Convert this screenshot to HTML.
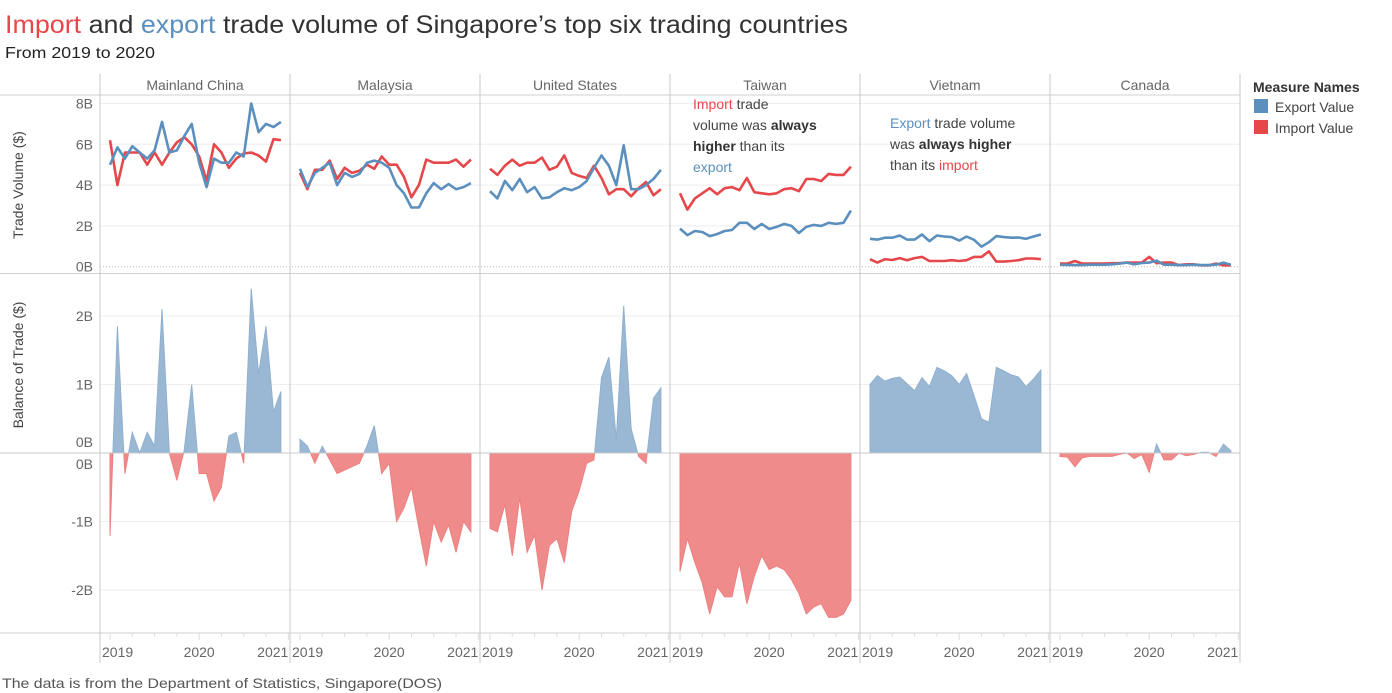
<!DOCTYPE html>
<html><head><meta charset="utf-8"><style>
html,body{margin:0;padding:0;background:#fff;}
svg{display:block;font-family:"Liberation Sans",sans-serif;}
</style></head><body>
<svg id="chart" width="1392" height="693" viewBox="0 0 1392 693">
<text x="5" y="33" font-size="25" textLength="843" lengthAdjust="spacingAndGlyphs" fill="#333"><tspan fill="#e8474a">Import</tspan> and <tspan fill="#5b8fbe">export</tspan> trade volume of Singapore’s top six trading countries</text>
<text x="5" y="58" font-size="16" textLength="150" lengthAdjust="spacingAndGlyphs" fill="#222">From 2019 to 2020</text>
<text x="2" y="688" font-size="14" textLength="440" lengthAdjust="spacingAndGlyphs" fill="#555">The data is from the Department of Statistics, Singapore(DOS)</text>
<g>
<text x="1253" y="92" font-size="14" font-weight="bold" fill="#333">Measure Names</text>
<rect x="1254" y="99" width="14" height="14" fill="#5b8fbe"/>
<text x="1275" y="112" font-size="14" fill="#444">Export Value</text>
<rect x="1254" y="120" width="14" height="14" fill="#e8474a"/>
<text x="1275" y="133" font-size="14" fill="#444">Import Value</text>
</g>
<g id="plot"></g>
<g font-size="14" fill="#444">
<text x="693" y="109"><tspan fill="#e8474a">Import</tspan> trade</text>
<text x="693" y="130">volume was <tspan font-weight="bold" fill="#333">always</tspan></text>
<text x="693" y="151"><tspan font-weight="bold" fill="#333">higher</tspan> than its</text>
<text x="693" y="172" fill="#5b8fbe">export</text>
</g>
<g font-size="14" fill="#444">
<text x="890" y="128"><tspan fill="#5b8fbe">Export</tspan> trade volume</text>
<text x="890" y="149">was <tspan font-weight="bold" fill="#333">always higher</tspan></text>
<text x="890" y="170">than its <tspan fill="#e8474a">import</tspan></text>
</g>
</svg>
<script>
const countries = ["Mainland China","Malaysia","United States","Taiwan","Vietnam","Canada"];
const exportChina = [4.99,5.85,5.3,5.9,5.6,5.3,5.7,7.1,5.6,5.7,6.4,7.0,5.1,3.9,5.3,5.1,5.1,5.6,5.4,8.0,6.6,7.0,6.85,7.1];
const importChina = [6.2,4.0,5.6,5.6,5.6,5.0,5.6,5.0,5.6,6.1,6.35,6.0,5.4,4.2,6.0,5.6,4.85,5.3,5.55,5.6,5.45,5.15,6.25,6.2];
const exportMalaysia = [4.8,3.9,4.6,4.85,5.1,4.0,4.6,4.4,4.55,5.1,5.2,5.1,4.85,4.0,3.6,2.9,2.9,3.6,4.1,3.8,4.05,3.8,3.9,4.1];
const importMalaysia = [4.6,3.8,4.75,4.75,5.2,4.3,4.85,4.6,4.7,5.0,4.8,5.4,5.0,5.0,4.4,3.4,4.0,5.25,5.1,5.1,5.1,5.25,4.9,5.25];
const exportUS = [3.7,3.35,4.2,3.75,4.3,3.65,3.9,3.35,3.4,3.65,3.85,3.75,3.9,4.2,4.85,5.45,4.95,4.0,5.95,3.8,3.8,4.0,4.3,4.75];
const importUS = [4.8,4.5,4.95,5.25,4.95,5.1,5.1,5.35,4.75,4.9,5.45,4.6,4.45,4.35,4.95,4.35,3.55,3.8,3.8,3.45,3.85,4.15,3.5,3.8];
const exportTaiwan = [1.87,1.55,1.75,1.7,1.5,1.6,1.75,1.8,2.15,2.15,1.85,2.1,1.85,1.95,2.1,2.0,1.65,1.95,2.05,2.0,2.15,2.1,2.15,2.75];
const importTaiwan = [3.6,2.8,3.35,3.6,3.85,3.55,3.85,3.9,3.75,4.35,3.65,3.6,3.55,3.6,3.8,3.85,3.7,4.3,4.3,4.2,4.55,4.5,4.5,4.9];
const exportVietnam = [1.37,1.33,1.42,1.42,1.53,1.33,1.33,1.58,1.25,1.53,1.48,1.45,1.28,1.48,1.32,0.98,1.2,1.5,1.45,1.42,1.43,1.37,1.48,1.58];
const importVietnam = [0.37,0.2,0.37,0.33,0.42,0.32,0.42,0.48,0.28,0.28,0.28,0.32,0.28,0.32,0.48,0.48,0.75,0.25,0.25,0.28,0.32,0.4,0.4,0.37];
const exportCanada = [0.1,0.09,0.08,0.08,0.1,0.1,0.1,0.12,0.15,0.2,0.12,0.18,0.2,0.3,0.1,0.1,0.08,0.08,0.1,0.08,0.08,0.1,0.2,0.1];
const importCanada = [0.15,0.15,0.28,0.15,0.15,0.15,0.15,0.17,0.17,0.2,0.2,0.2,0.48,0.17,0.2,0.2,0.08,0.12,0.12,0.07,0.07,0.15,0.07,0.07];
const volumeTicks = [0,2,4,6,8];
const balancePosTicks = [0,1,2];
const balanceNegTicks = [0,-1,-2];
const yearLabels = ["2019","2020","2021"];

const exportsAll=[exportChina,exportMalaysia,exportUS,exportTaiwan,exportVietnam,exportCanada];
const importsAll=[importChina,importMalaysia,importUS,importTaiwan,importVietnam,importCanada];

const NS="http://www.w3.org/2000/svg";
const plot=document.getElementById('plot');
function mk(tag,attrs,parent){const e=document.createElementNS(NS,tag);for(const k in attrs)e.setAttribute(k,attrs[k]);(parent||plot).appendChild(e);return e;}
const panelX0=100,panelW=190,monthW=7.43;
const xScale=(p,i)=>panelX0+p*panelW+10+i*monthW;
const yVol=v=>266.7-v*20.4;
const yBal=v=>453-v*68.5;
const gray="#c8c8c8";

volumeTicks.forEach(t=>{if(t>0){const g=mk('line',{x1:100,x2:1240,y1:yVol(t),y2:yVol(t),stroke:'#eeeeee'});

}
const l=mk('text',{x:93,y:yVol(t)+5,'font-size':14,'text-anchor':'end',fill:'#666'});l.textContent=t+'B';

});
balancePosTicks.forEach(t=>{if(t>0){const g=mk('line',{x1:100,x2:1240,y1:yBal(t),y2:yBal(t),stroke:'#eeeeee'});

}
const l=mk('text',{x:93,y:yBal(t)+(t===0?-6:5),'font-size':14,'text-anchor':'end',fill:'#666'});l.textContent=t+'B';

});
balanceNegTicks.forEach(t=>{if(t<0){const g=mk('line',{x1:100,x2:1240,y1:yBal(t),y2:yBal(t),stroke:'#eeeeee'});

}
const l=mk('text',{x:93,y:yBal(t)+(t===0?16:5),'font-size':14,'text-anchor':'end',fill:'#666'});l.textContent=t+'B';

});
const dz=mk('line',{x1:100,x2:1240,y1:yVol(0),y2:yVol(0),stroke:'#bbb','stroke-dasharray':'1,2'});



[[0,95,1240,95],[0,273.5,1240,273.5],[0,633,1240,633]].forEach(a=>{const l=mk('line',{x1:a[0],y1:a[1],x2:a[2],y2:a[3],stroke:'#d0d0d0'});

});
for(let p=0;p<=6;p++){const l=mk('line',{x1:100+p*panelW,x2:100+p*panelW,y1:74,y2:663,stroke:gray});

}

const t1=mk('text',{x:0,y:0,'font-size':14,fill:'#444','text-anchor':'middle',transform:'translate(23,185) rotate(-90)'});t1.textContent='Trade Volume ($)';


const t2=mk('text',{x:0,y:0,'font-size':14,fill:'#444','text-anchor':'middle',transform:'translate(23,365) rotate(-90)'});t2.textContent='Balance of Trade ($)';



function areaPath(p,vals,sign){
  let pts=[];const n=vals.length;
  for(let i=0;i<n;i++){
    const v=sign>0?Math.max(vals[i],0):Math.min(vals[i],0);
    pts.push([xScale(p,i),yBal(v)]);
    if(i<n-1){const a=vals[i],b=vals[i+1];if((a>0&&b<0)||(a<0&&b>0)){const f=a/(a-b);pts.push([xScale(p,i+f),yBal(0)]);}}
  }
  let d='M'+xScale(p,0)+','+yBal(0);
  pts.forEach(q=>d+='L'+q[0].toFixed(1)+','+q[1].toFixed(1));
  d+='L'+xScale(p,n-1)+','+yBal(0)+'Z';return d;
}
function linePath(p,vals){return vals.map((v,i)=>(i?'L':'M')+xScale(p,i).toFixed(1)+','+yVol(v).toFixed(1)).join('');}

countries.forEach((c,p)=>{
  const h=mk('text',{x:100+p*panelW+panelW/2,y:90,'font-size':14,fill:'#666','text-anchor':'middle'});h.textContent=c;
  
  
  const ex=exportsAll[p],im=importsAll[p];
  const bal=ex.map((v,i)=>v-im[i]);
  const pa=mk('path',{d:areaPath(p,bal,1),fill:'#9ab8d4',stroke:'#8fb0cf','stroke-width':1});
  
  
  const na=mk('path',{d:areaPath(p,bal,-1),fill:'#f08b8b',stroke:'#ee7f7f','stroke-width':1});
  
  
  const il=mk('path',{d:linePath(p,im),fill:'none',stroke:'#e5474a','stroke-width':2.6,'stroke-linejoin':'round'});
  
  
  const el=mk('path',{d:linePath(p,ex),fill:'none',stroke:'#5b8fbe','stroke-width':2.6,'stroke-linejoin':'round'});
  
  
  for(let q=0;q<=8;q++){const x=xScale(p,q*3);const tk=mk('line',{x1:x,x2:x,y1:633,y2:q%4===0?640:637,stroke:'#ddd'});
  
  }
  yearLabels.forEach((y,k)=>{const x=xScale(p,k*12);
    const anchor=k===0?'start':(k===1?'middle':'end');
    const lx=k===0?x-8:x;
    const t=mk('text',{x:lx,y:657,'font-size':14,fill:'#666','text-anchor':anchor});t.textContent=y;
    
    });
});
const zl=mk('line',{x1:0,x2:1240,y1:453,y2:453,stroke:'#c8c8c8'});


</script>
</body></html>
